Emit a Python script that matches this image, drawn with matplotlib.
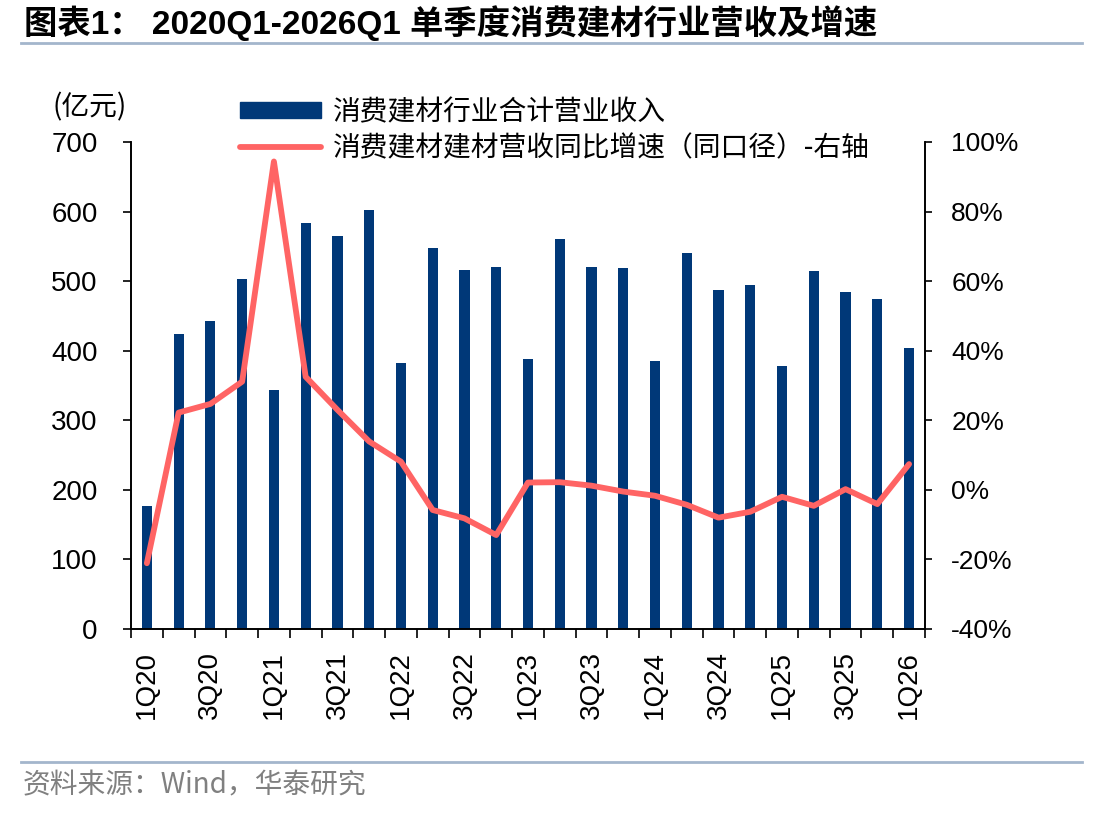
import numpy as np
import matplotlib.pyplot as plt
from matplotlib.lines import Line2D
from matplotlib.patches import Patch

plt.rcParams['font.family'] = ['Liberation Sans', 'Noto Sans CJK SC']

quarters = ['1Q20', '2Q20', '3Q20', '4Q20', '1Q21', '2Q21', '3Q21', '4Q21',
            '1Q22', '2Q22', '3Q22', '4Q22', '1Q23', '2Q23', '3Q23', '4Q23',
            '1Q24', '2Q24', '3Q24', '4Q24', '1Q25', '2Q25', '3Q25', '4Q25', '1Q26']
revenue = [177, 424, 442, 503, 343, 583, 565, 602,
           382, 547, 516, 521, 388, 560, 521, 519,
           385, 541, 487, 495, 378, 514, 485, 474, 404]
growth = [-21.1, 22.2, 24.7, 31.1, 94.4, 32.5, 23.0, 13.9,
          8.1, -5.8, -8.2, -13.0, 2.1, 2.2, 1.2, -0.5,
          -1.7, -4.3, -8.0, -6.3, -2.0, -4.6, 0.2, -4.1, 7.4]

bar_color = '#003878'
line_color = '#FF6464'
rule_color = '#A3B6CC'

fig = plt.figure(figsize=(11.12, 8.16), dpi=100)
ax = fig.add_axes([0.1178, 0.2292, 0.714, 0.5968])
ax2 = ax.twinx()

x = np.arange(len(quarters))
ax.bar(x, revenue, width=0.32, color=bar_color, zorder=2)
ax2.plot(x, growth, color=line_color, lw=4.2, solid_capstyle='round',
         solid_joinstyle='round', zorder=3)

ax.set_xlim(-0.5, len(quarters) - 0.5)
ax.set_ylim(0, 700)
ax.set_yticks(range(0, 701, 100))
ax2.set_ylim(-40, 100)
ax2.set_yticks(range(-40, 101, 20))
ax2.set_yticklabels([f'{v}%' for v in range(-40, 101, 20)])

ax.set_xticks(x[::2])
ax.set_xticklabels(quarters[::2], rotation=90)
ax.set_xticks(np.arange(-0.5, len(quarters), 1), minor=True)
ax.tick_params(axis='x', which='major', length=0, pad=16, labelsize=20)
ax.tick_params(axis='x', which='minor', length=6.5, width=1.2, direction='out')
ax.tick_params(axis='y', length=6, width=1.2, labelsize=20, pad=18)
ax2.tick_params(axis='y', length=5, width=1.2, labelsize=19, pad=14)

for a in (ax, ax2):
    a.spines['top'].set_visible(False)
    for s in ('left', 'right', 'bottom'):
        a.spines[s].set_linewidth(1.2)

handles = [Patch(color=bar_color),
           Line2D([0], [0], color=line_color, lw=4.2, solid_capstyle='round')]
labels = ['消费建材行业合计营业收入', '消费建材建材营收同比增速（同口径）-右轴']
fig.legend(handles, labels, loc='upper left', bbox_to_anchor=(0.2158, 0.881),
           frameon=False, handlelength=2.9, handleheight=0.5,
           handletextpad=0.45, labelspacing=0.22, borderaxespad=0, borderpad=0,
           prop={'family': ['Noto Sans CJK SC'], 'size': 20})

fig.text(0.047, 0.868, '(亿元)', fontsize=20, va='center',
         family=['Noto Sans CJK SC'])

fig.text(0.022, 0.972, '图表1： 2020Q1-2026Q1 单季度消费建材行业营收及增速',
         fontsize=24, fontweight='bold', va='center')
fig.add_artist(Line2D([0.019, 0.973], [0.947, 0.947], color=rule_color, lw=2))
fig.add_artist(Line2D([0.019, 0.973], [0.066, 0.066], color=rule_color, lw=2))
fig.text(0.02, 0.038, '资料来源：Wind，华泰研究', fontsize=20, color='#808080',
         va='center', family=['Noto Sans CJK SC'])

fig.savefig('out.png', dpi=100)
